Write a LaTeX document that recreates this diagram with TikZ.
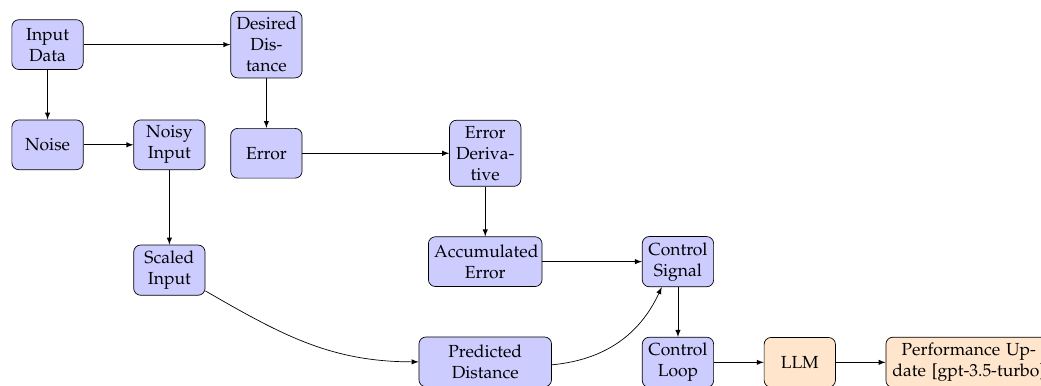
\documentclass[tikz,border=0pt]{standalone}
\usepackage[T1]{fontenc}
\usepackage{mathpazo}
\usepackage{tikz}
\usetikzlibrary{positioning}

\begin{document}
\begin{tikzpicture}[
    block/.style={draw, rounded corners, fill=blue!20, text width=1.2cm,
      minimum height=1cm, align=center},
    llmblock/.style={block, fill=orange!20},
    >=latex]
            \useasboundingbox (-27.2pt,25.5pt) rectangle (568.1pt,-194.7pt);
            \node[block] (Input) at (0,0) {Input Data};
            \node[block, right=2.95cm of Input] (Desired) {Desired Distance};
            \node[block, below=1cm of Input] (Noise) {Noise};
            \node[block, right=1cm of Noise] (Noisy) {Noisy Input};
            \node[block, below=1cm of Desired] (Error) {Error};
            \node[block, right=2.95cm of Error] (Deriv) {Error Derivative};
            \node[block, below=1.5cm of Noisy] (Scaled) {Scaled Input};
            \node[block, text width=2.05cm, below=1cm of Deriv] (Accum) {Accumulated Error};
            \node[block, right=2cm of Accum] (Ctrl) {Control Signal};
            \node[block, text width=2.43cm, below=1cm of Accum] (Pred) {Predicted Distance};
            \node[block, below=1cm of Ctrl] (Loop) {Control Loop};
            \node[llmblock, right=1cm of Loop] (LLM) {LLM};
            \node[llmblock, text width=3.1cm, right=1cm of LLM] (Perf) {Performance Update [gpt-3.5-turbo]};
            \draw[->] (Input) -- (Desired);
            \draw[->] (Input) -- (Noise);
            \draw[->] (Noise) -- (Noisy);
            \draw[->] (Desired) -- (Error);
            \draw[->] (Error) -- (Deriv);
            \draw[->] (Noisy) -- (Scaled);
            \draw[->] (Deriv) -- (Accum);
            \draw[->] (Accum) -- (Ctrl);
            \draw[->] (Scaled) to [out=-30,in=180] (Pred);
            \draw[->] (Pred) to [bend right] (Ctrl);
            \draw[->] (Ctrl) -- (Loop);
            \draw[->] (Loop) -- (LLM);
            \draw[->] (LLM) -- (Perf);
          \end{tikzpicture}
\end{document}
